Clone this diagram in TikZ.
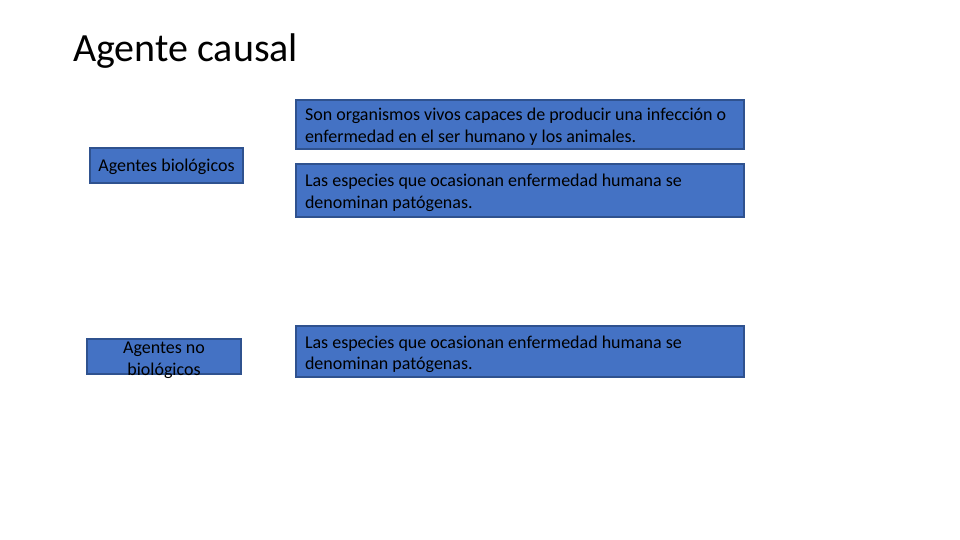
\documentclass[tikz,border=0pt]{standalone}
\usepackage{fontspec}
\setmainfont{Carlito}
\definecolor{cajaazul}{HTML}{4472C4}
\definecolor{bordeazul}{HTML}{2F528F}
\tikzset{caja/.style={rectangle, draw=bordeazul, fill=cajaazul, line width=1.3pt, inner sep=0pt, text=black, font=\fontsize{18}{21.5}\selectfont},
	texto/.style={caja, minimum width=448pt, text width=430pt, align=flush left, text depth=19.5pt}}

\begin{document}
\begin{tikzpicture}[x=1pt,y=-1pt]
		\useasboundingbox (0,0) rectangle (960,540);
		% 标题
		\node[anchor=base west, inner sep=0pt, font=\fontsize{40}{48}\selectfont] (titulo) at (73,62) {Agente causal};

		% 左边的两个框
		\node[caja, minimum width=153pt, minimum height=35pt, text depth=0pt] (bio) at (166.5,165.5) {Agentes biológicos};
		\node[caja, minimum width=154pt, minimum height=35pt] (nobio) at (164,356.5) {\smash{\raisebox{-8pt}{\parbox{150pt}{\centering Agentes no\\biológicos}}}};

		% 右边的三个框
		\node[texto, minimum height=49pt] (def) at (520,124.5) {Son organismos vivos capaces de producir una infección o\\enfermedad en el ser humano y los animales.};
		\node[texto, minimum height=53pt] (pat) at (520,190.5) {Las especies que ocasionan enfermedad humana se\\denominan patógenas.};
		\node[texto, minimum height=51pt] (patdos) at (520,351.5) {Las especies que ocasionan enfermedad humana se\\denominan patógenas.};
	\end{tikzpicture}
\end{document}
